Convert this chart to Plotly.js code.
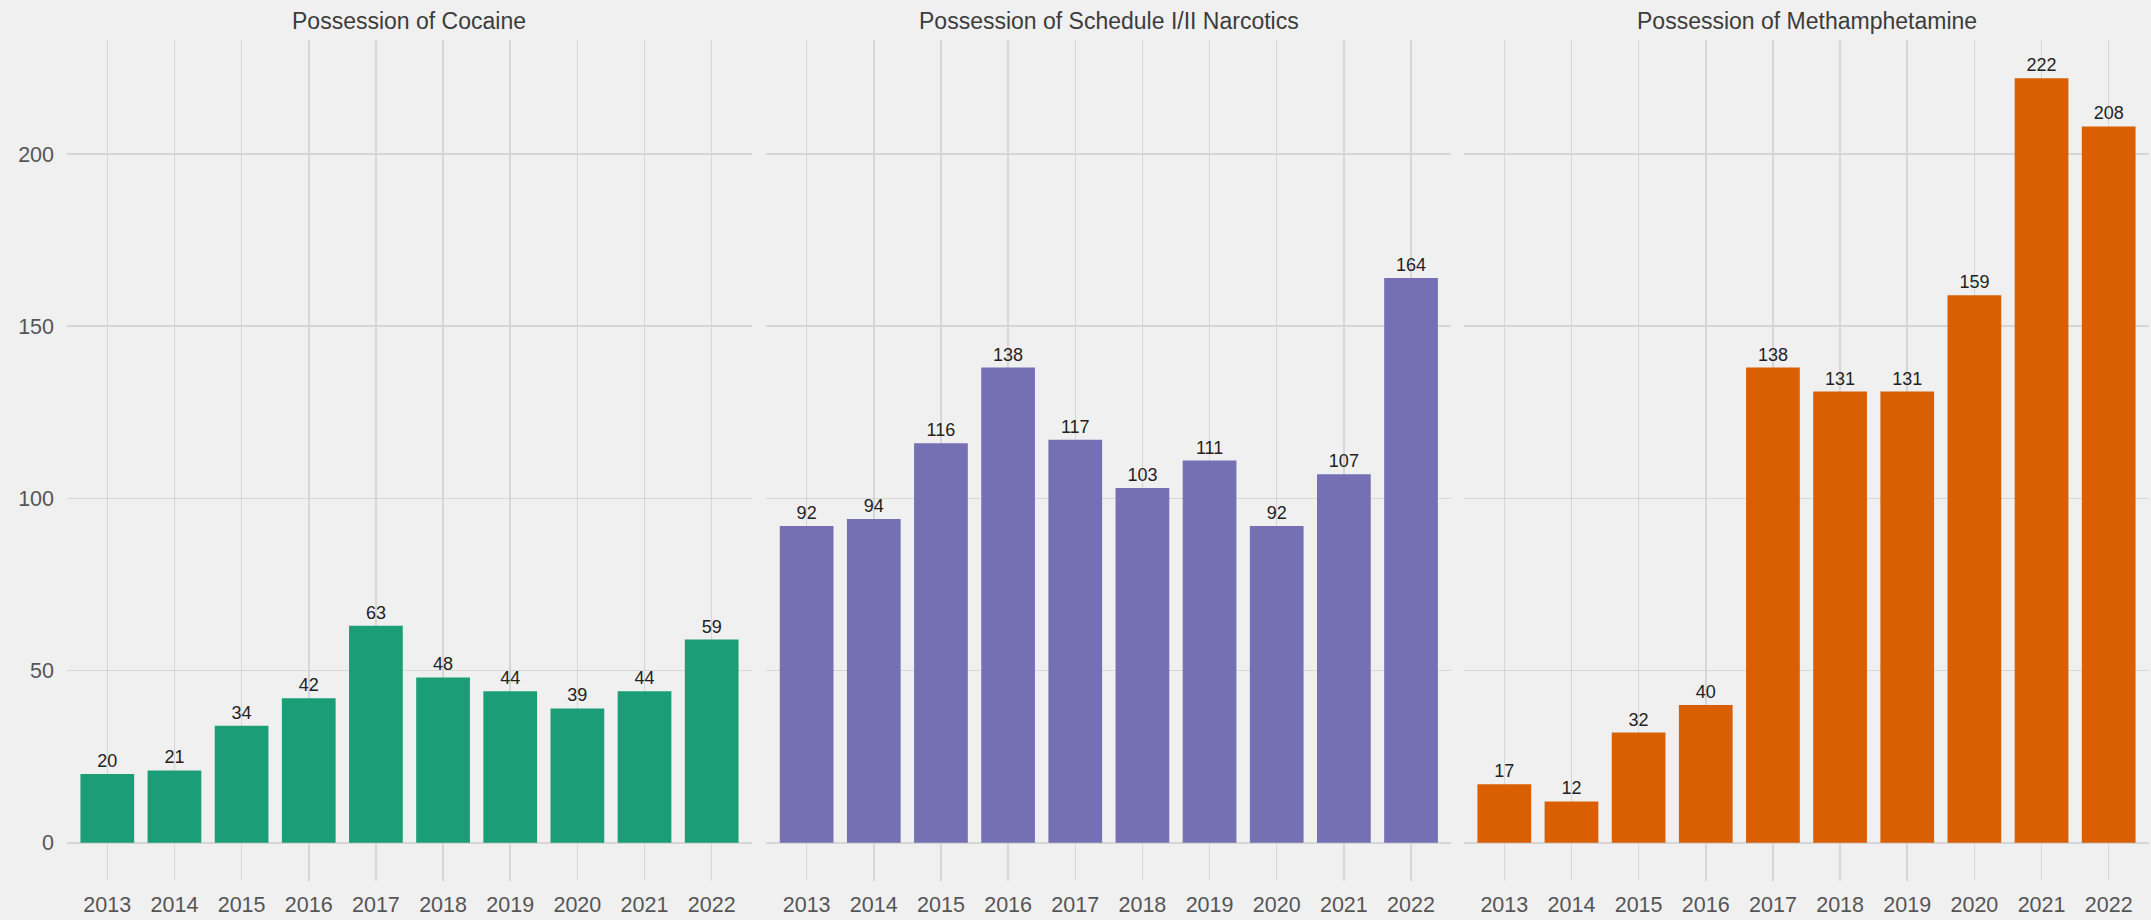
<!DOCTYPE html>
<html>
<head>
<meta charset="utf-8">
<script src="https://cdn.plot.ly/plotly-3.0.1.min.js"></script>
<style>
html,body{margin:0;padding:0;background:#F0F0F0;}
#chart{width:2151px;height:920px;}
</style>
</head>
<body>
<div id="chart"></div>
<script>
const years = ["2013","2014","2015","2016","2017","2018","2019","2020","2021","2022"];
const panelTitles = ["Possession of Cocaine","Possession of Schedule I/II Narcotics","Possession of Methamphetamine"];
const cocaine = [20,21,34,42,63,48,44,39,44,59];
const narcotics = [92,94,116,138,117,103,111,92,107,164];
const meth = [17,12,32,40,138,131,131,159,222,208];
const yTicks = [0,50,100,150,200];

const colors = ["#1B9E77","#7570B3","#D95F02"];
const series = [cocaine, narcotics, meth];
const FONT = "Liberation Sans, Arial, sans-serif";

const traces = series.map((vals,i)=>({
  type:"bar",
  x: years,
  y: vals,
  xaxis: i===0?"x":"x"+(i+1),
  yaxis: i===0?"y":"y"+(i+1),
  marker:{color:colors[i]},
  text: vals.map(String),
  textposition:"outside",
  cliponaxis:false,
  textfont:{family:FONT,size:18,color:"#222222"},
  hoverinfo:"x+y",
  showlegend:false
}));

const domains = [[0,0.3290],[0.3359,0.6649],[0.6710,1]];
const ymax = Math.max(...cocaine,...narcotics,...meth);
const pad = ymax*0.05;
const yrange = [-pad, ymax+pad];

const layout = {
  width:2151, height:920,
  paper_bgcolor:"#F0F0F0", plot_bgcolor:"#F0F0F0",
  margin:{l:67,r:2,t:40,b:39,pad:0},
  bargap:0.2,
  font:{family:FONT,color:"#555555"},
  annotations: panelTitles.map((t,i)=>({
    text:t, xref:"paper", yref:"paper",
    x:(domains[i][0]+domains[i][1])/2, y:1+19/841,
    xanchor:"center", yanchor:"middle", showarrow:false,
    font:{family:FONT,size:23,color:"#3C3C3C"}
  }))
};

for(let i=0;i<3;i++){
  const xs = i===0?"xaxis":"xaxis"+(i+1);
  const ys = i===0?"yaxis":"yaxis"+(i+1);
  layout[xs] = {
    domain:domains[i], anchor:i===0?"y":"y"+(i+1),
    type:"category", range:[-0.6,9.6],
    showgrid:true, gridcolor:"#D6D6D6", gridwidth:1.5,
    zeroline:false, showline:false, ticks:"",
    tickfont:{family:FONT,size:21.5,color:"#555555"},
    ticklabelstandoff:8,
    fixedrange:true
  };
  layout[ys] = {
    domain:[0,1], anchor:i===0?"x":"x"+(i+1),
    range:yrange, tickvals:yTicks, ticktext:yTicks.map(String),
    showgrid:true, gridcolor:"#D6D6D6", gridwidth:1.5,
    zeroline:false, showline:false, ticks:"",
    showticklabels:i===0,
    tickfont:{family:FONT,size:21.5,color:"#555555"},
    ticklabelstandoff:12,
    fixedrange:true
  };
}

Plotly.newPlot("chart", traces, layout, {displayModeBar:false, staticPlot:true});
</script>
</body>
</html>
